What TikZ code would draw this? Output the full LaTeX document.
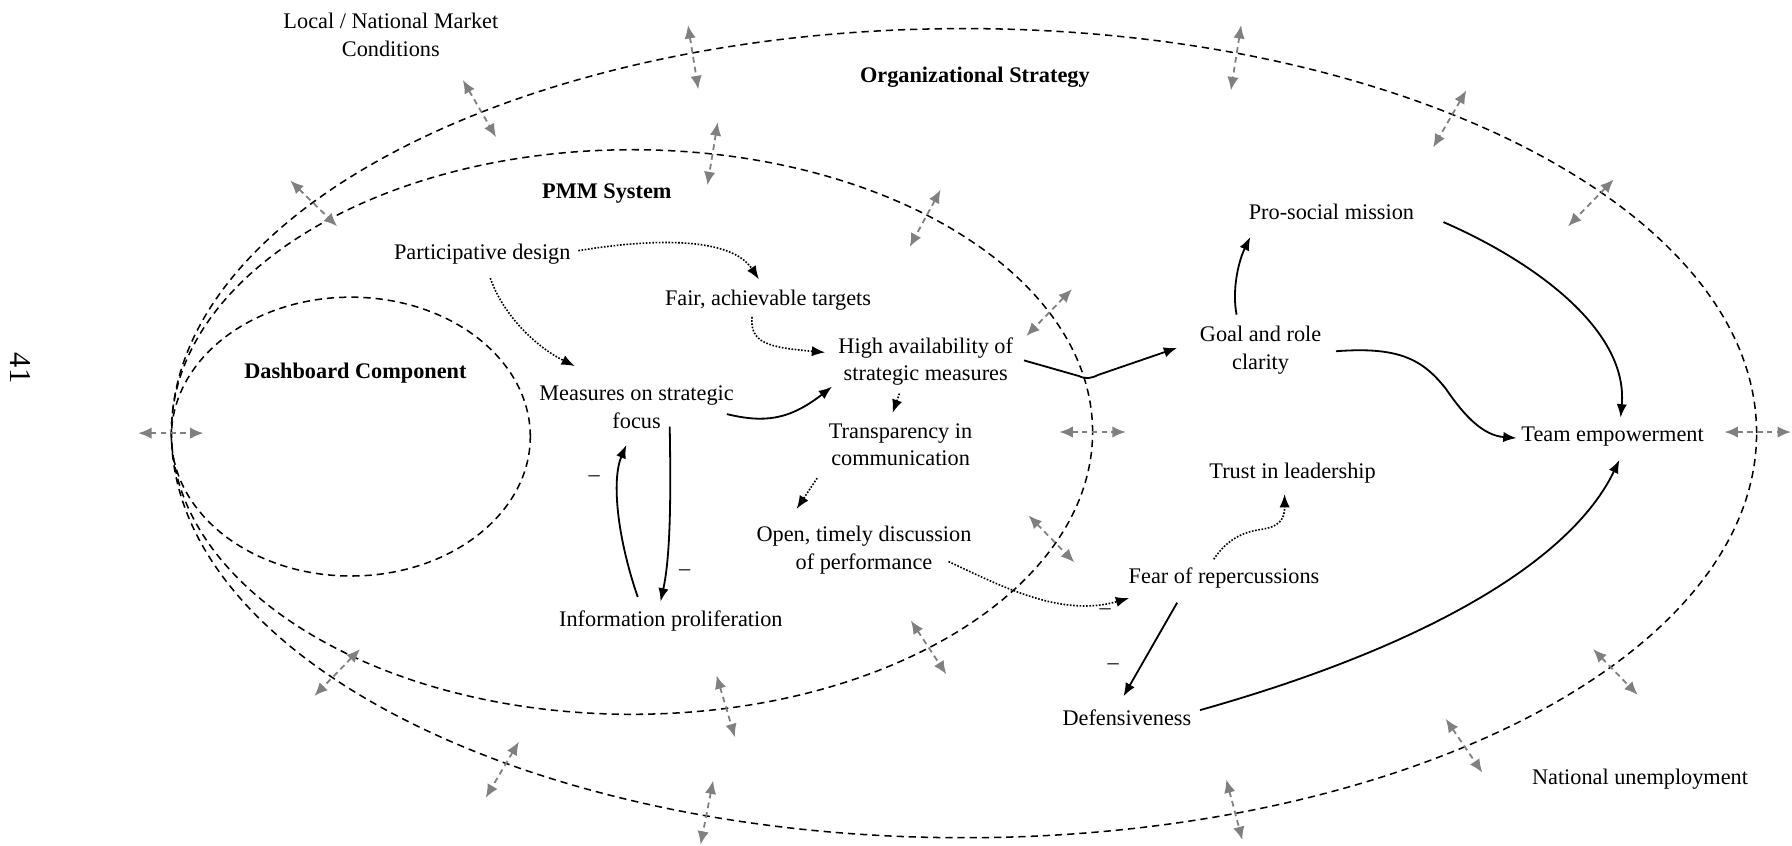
\documentclass[tikz,border=0pt]{standalone}
\usepackage{fontspec}
\setmainfont{Liberation Serif}
\usetikzlibrary{arrows.meta,calc}
\begin{document}
\begin{tikzpicture}[x=0.6pt,y=-0.6pt,
  font=\fontsize{11.7}{14.4}\selectfont,
  lbl/.style={align=center,inner sep=0pt,yshift=-1.4pt},
  ttl/.style={font=\fontsize{11.7}{14.4}\selectfont\bfseries,inner sep=0pt,yshift=-1.4pt},
  zone/.style={draw=black,line width=0.8pt,dash pattern=on 3.8pt off 2.6pt},
  link/.style={line width=0.95pt,-{Latex[length=7pt,width=5.4pt]}},
  weak/.style={line width=0.85pt,dash pattern=on 0.85pt off 0.85pt,-{Latex[length=7pt,width=5.4pt]}},
  ext/.style={draw=gray,line width=0.95pt,dash pattern=on 3pt off 2.2pt,
              {Latex[length=7pt,width=6pt]}-{Latex[length=7pt,width=6pt]}},
  neg/.style={inner sep=0pt}
]
\useasboundingbox (0,0) rectangle (1568,740);

% nested contexts
\draw[zone] (843.5,379) ellipse [x radius=416.1pt, y radius=212.4pt];
\draw[zone] (553,378) ellipse [x radius=241.8pt, y radius=148.2pt];
\draw[zone] (307,382) ellipse [x radius=94.2pt, y radius=73.2pt];

% exchanges across the boundaries
\foreach \ax/\ay/\bx/\by in {
  405/70/434/120, 254/158/295/198, 602/22/611/78, 628/107/619/162,
  823/166/796/216, 1086/22/1077/79, 1283/79/1254/129, 1412/157/1372/198,
  938/253/898/294, 121/379/178/379, 927/378/985/378, 1509/378/1567/378,
  900/451/940/492, 315/568/275/609, 797/543/828/590, 1394/568/1433/608,
  627/591/643/645, 1265/629/1297/676, 454/649/425/698, 624/683/613/739,
  1073/682/1087/735}
  \draw[ext] (\ax,\ay) -- (\bx,\by);

% page number
\node[rotate=-90,font=\fontsize{16}{16}\selectfont] (pg) at (18,322) {41};

% context labels
\node[lbl] (lnm) at (342,28) {Local / National Market\\Conditions};
\node[ttl] (os) at (853,65) {Organizational Strategy};
\node[ttl] (pmm) at (531,167) {PMM System};
\node[ttl] (dc) at (311,324) {Dashboard Component};
\node[lbl] (nu) at (1435,679) {National unemployment};

% variables
\node[lbl] (pd) at (422,220) {Participative design};
\node[lbl] (fat) at (672,260) {Fair, achievable targets};
\node[lbl] (has) at (810,314) {High availability of\\strategic measures};
\node[lbl] (msf) at (557,354) {Measures on strategic\\focus};
\node[lbl] (tic) at (788,387) {Transparency in\\communication};
\node[lbl] (otd) at (756,479) {Open, timely discussion\\of performance};
\node[lbl] (ip) at (587,541) {Information proliferation};
\node[lbl] (grc) at (1103,304) {Goal and role\\clarity};
\node[lbl] (psm) at (1165,183) {Pro-social mission};
\node[lbl] (te) at (1411,380) {Team empowerment};
\node[lbl] (til) at (1131,412) {Trust in leadership};
\node[lbl] (fr) at (1071,503) {Fear of repercussions};
\node[lbl] (def) at (986,626) {Defensiveness};

% weak (dotted) links
\draw[weak] ($(pd)+(84,-3)$) .. controls (575,208) and (640,208) .. ($(fat)+(-8,-18)$);
\draw[weak] ($(pd)+(7,21)$) .. controls (440,275) and (468,303) .. ($(msf)+(-54,-36)$);
\draw[weak] ($(fat)+(-14,15)$) .. controls (656,300) and (672,304) .. ($(has)+(-88,-8)$);
\draw[weak] ($(has)+(-23,28)$) -- ($(tic)+(-7,-28)$);
\draw[weak] ($(tic)+(-73,29)$) -- ($(otd)+(-59,-36)$);
\draw[weak] ($(otd)+(74,10)$) .. controls (880,515) and (930,540) .. ($(fr)+(-83,18)$);
\draw[weak] ($(fr)+(-9,-16)$) .. controls (1075,470) and (1090,465) .. (1105,463)
            .. controls (1122,460) and (1124,452) .. ($(til)+(-7,18)$);

% strong (solid) links
\draw[link] ($(msf)+(79,6)$) .. controls (668,370) and (690,368) .. ($(has)+(-82,22)$);
\draw[link] ($(has)+(86,-1)$) -- (944,329) .. controls (950,332) and (955,331) .. (961,328)
            -- ($(grc)+(-73,-2)$);
\draw[link] ($(msf)+(29,17)$) .. controls (587,430) and (587,485) .. ($(ip)+(-9,-17)$);
\draw[link] ($(ip)+(-29,-21)$) .. controls (540,470) and (535,420) .. ($(msf)+(-9,33)$);
\draw[link] ($(fr)+(-41,22)$) -- ($(def)+(-3,-19)$);
\draw[link] ($(grc)+(-21,-31)$) .. controls (1078,255) and (1083,230) .. ($(psm)+(-71,22)$);
\draw[link] ($(psm)+(98,9)$) .. controls (1345,230) and (1425,290) .. ($(te)+(7,-17)$);
\draw[link] ($(grc)+(66,1)$) .. controls (1225,303) and (1245,315) .. (1265,340)
            .. controls (1282,365) and (1298,381) .. ($(te)+(-84,1)$);
\draw[link] ($(def)+(64,-7)$) .. controls (1250,565) and (1375,490) .. ($(te)+(6,20)$);

% negative polarities
\node[neg] (m1) at (520,419) {–};
\node[neg] (m2) at (599,501) {–};
\node[neg] (m3) at (967,535) {–};
\node[neg] (m4) at (974,583) {–};
\end{tikzpicture}
\end{document}
